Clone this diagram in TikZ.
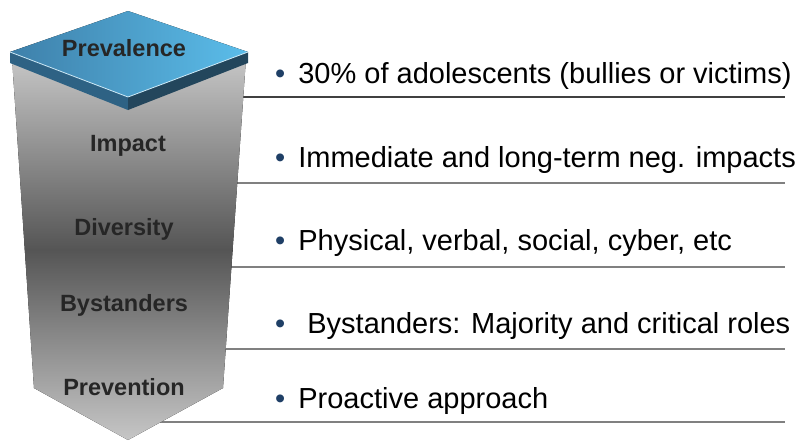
\documentclass[tikz,border=0pt]{standalone}
\usepackage{fontspec}
\setmainfont{Liberation Sans}
\usepackage{tikz}

\definecolor{TopLight}{HTML}{5BBDEA}
\definecolor{TopDark}{HTML}{3E80AA}
\definecolor{SideLeft}{HTML}{2E6284}
\definecolor{SideRight}{HTML}{23465C}
\definecolor{BulletBlue}{HTML}{1F3F66}
\definecolor{LabelGray}{HTML}{262626}
\definecolor{ColLight}{HTML}{C6C6C6}
\definecolor{ColDark}{HTML}{555555}

\begin{document}
\begin{tikzpicture}[x=1pt, y=-1pt,
	steplabel/.style={font=\fontsize{23.5}{28}\selectfont\bfseries, text=LabelGray, anchor=base, inner sep=0pt},
	item/.style={font=\fontsize{29}{34}\selectfont, anchor=base west, inner sep=0pt},
	rule/.style={line width=1.5pt}]
	\useasboundingbox (0,0) rectangle (808,440);

	% rules, behind the column
	\foreach \y/\c in {97/black!75, 183/gray, 267/gray, 349/gray, 422/gray}
		\draw[rule, \c] (150,\y) -- (785,\y);

	% column with arrow tip: light - dark - light
	\begin{scope}
		\clip (12,58) -- (246,58) -- (223,388) -- (128,440) -- (34,388) -- cycle;
		\fill[top color=ColLight, bottom color=ColDark] (0,58) rectangle (260,250);
		\fill[top color=ColDark, bottom color=ColLight] (0,249.5) rectangle (260,440);
	\end{scope}

	% top slab
	\fill[SideLeft] (10,52) -- (128,97) -- (128,110) -- (10,63) -- cycle;
	\fill[SideRight] (128,97) -- (248,52) -- (248,63) -- (128,110) -- cycle;
	\fill[left color=TopDark, right color=TopLight] (128,11) -- (248,52) -- (128,97) -- (10,52) -- cycle;
	\draw[white!70!TopLight, line width=0.8pt] (10,52) -- (128,97) -- (248,52);

	\node[steplabel] (prevalence) at (124,56.5) {Prevalence};
	\node[steplabel] (impact) at (128,151.5) {Impact};
	\node[steplabel] (diversity) at (124,235.5) {Diversity};
	\node[steplabel] (bystanders) at (124,311.5) {Bystanders};
	\node[steplabel] (prevention) at (124,395.5) {Prevention};

	\node[item] (prevalencetext) at (275,83) {\textcolor{BulletBlue}{\textbullet}\hspace{13pt}30\% of adolescents (bullies or victims)};
	\node[item] (impacttext) at (275,167) {\textcolor{BulletBlue}{\textbullet}\hspace{13pt}Immediate and long-term neg. impacts};
	\node[item] (diversitytext) at (275,250) {\textcolor{BulletBlue}{\textbullet}\hspace{13pt}Physical, verbal, social, cyber, etc};
	\node[item] (bystanderstext) at (275,333) {\textcolor{BulletBlue}{\textbullet}\hspace{22pt}Bystanders: Majority and critical roles};
	\node[item] (preventiontext) at (275,408) {\textcolor{BulletBlue}{\textbullet}\hspace{13pt}Proactive approach};
\end{tikzpicture}
\end{document}
